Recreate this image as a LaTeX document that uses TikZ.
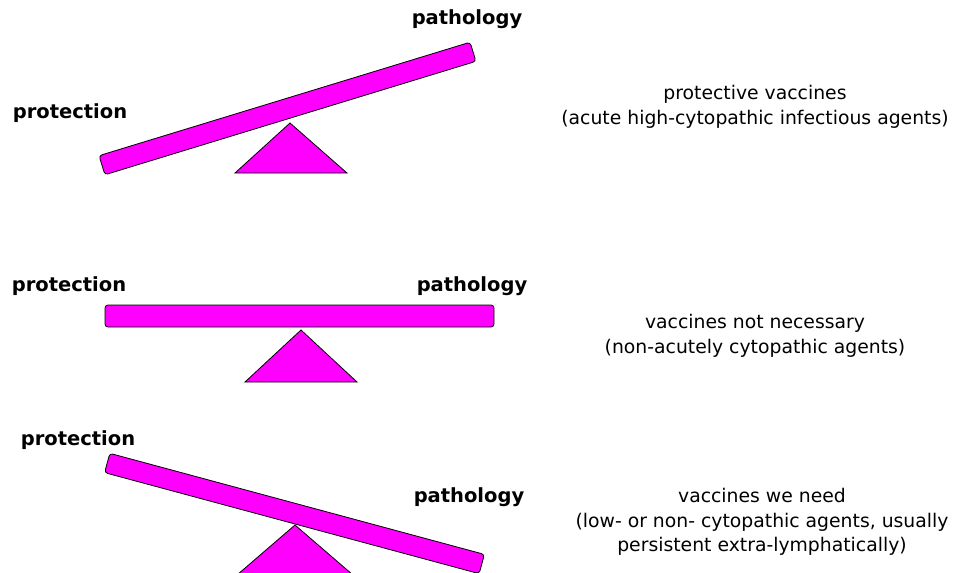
\documentclass[tikz,border=0pt]{standalone}
\usepackage{fontspec}
\setmainfont{DejaVu Sans}
\usetikzlibrary{positioning}
\definecolor{seesaw}{RGB}{255,0,255}
\tikzset{
    beam/.style={
           rectangle, rounded corners=3pt,
           draw=black, line width=0.8pt,
           fill=seesaw,
           minimum width=388pt,
           minimum height=20pt,
           inner sep=0pt},
    fulcrum/.style={
           draw=black, line width=0.8pt,
           fill=seesaw},
    side/.style={
           font=\bfseries\fontsize{19.5}{22}\selectfont,
           inner sep=0pt},
    note/.style={
           align=center,
           font=\fontsize{18.8}{24.5}\selectfont,
           inner sep=0pt}
}
\begin{document}
\begin{tikzpicture}[x=1pt, y=-1pt]
        \useasboundingbox (0,0) rectangle (954,573);

        % tilted towards protection
        \draw[fulcrum] (290,123) -- (347,173) -- (235,173) -- cycle;
        \node[beam, rotate=17] (b1) at (287.5,108.5) {};
        \node[side] (prot1) at (70,113) {protection};
        \node[side] (path1) at (467,19) {pathology};
        \node[note] (n1) at (755,107) {protective vaccines\\(acute high-cytopathic infectious agents)};

        % balanced
        \draw[fulcrum] (301,330) -- (357,382) -- (245,382) -- cycle;
        \node[beam, minimum width=389pt, minimum height=22pt] (b2) at (299.5,316) {};
        \node[side] (prot2) at (69,286) {protection};
        \node[side] (path2) at (472,286) {pathology};
        \node[note] (n2) at (755,336) {vaccines not necessary\\(non-acutely cytopathic agents)};

        % tilted towards pathology
        \draw[fulcrum] (295,525) -- (353,575) -- (237,575) -- cycle;
        \node[beam, rotate=-15.1] (b3) at (294.5,513.5) {};
        \node[side] (prot3) at (78,440) {protection};
        \node[side] (path3) at (469,497) {pathology};
        \node[note] (n3) at (762,522) {vaccines we need\\(low- or non- cytopathic agents, usually\\persistent extra-lymphatically)};
\end{tikzpicture}
\end{document}
